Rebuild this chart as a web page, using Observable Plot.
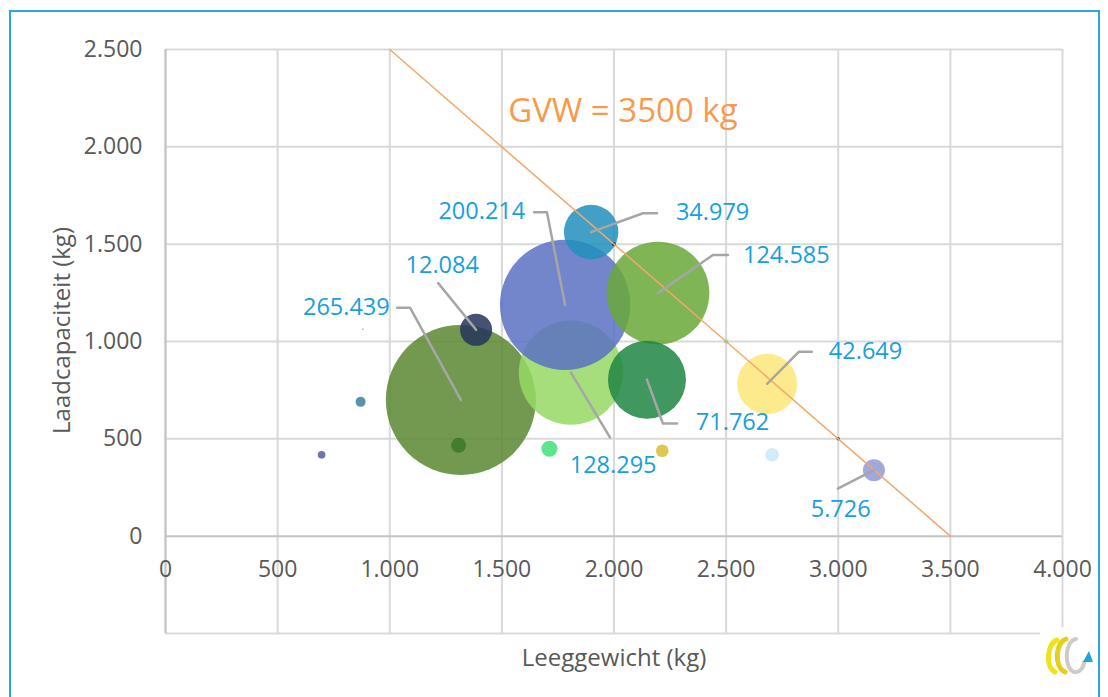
<!DOCTYPE html>
<html><head><meta charset="utf-8">
<script src="https://cdn.jsdelivr.net/npm/d3@7"></script>
<script src="https://cdn.jsdelivr.net/npm/@observablehq/plot@0.6"></script>
<style>
body{margin:0;background:#fff;}
#wrap{position:relative;width:1108px;height:697px;overflow:hidden;background:#fff;}
#frame{position:absolute;left:9px;top:10px;width:1087px;height:720px;border:2px solid #2ba6de;pointer-events:none;}
#logo{position:absolute;left:1040px;top:627px;width:56px;height:62px;background:#fff;}
</style></head>
<body><div id="wrap"><div id="chart"></div><div id="frame"></div>
<svg id="logo" viewBox="0 0 56 62">
<path d="M17 13 C7 16 5 40 15 45" fill="none" stroke="#f1e21a" stroke-width="5" stroke-linecap="round"/>
<path d="M26 12 C15 16 14 40 25 45" fill="none" stroke="#e6cf1c" stroke-width="5" stroke-linecap="round"/>
<path d="M36 12 C24 14 24 42 34 45 C40 46 44 40 44 35" fill="none" stroke="#cbcbcb" stroke-width="4" stroke-linecap="round"/>
<polygon points="49,24 43,35 53,35" fill="#1ca3e0"/>
</svg></div>
<script>
// data
const leeggewicht   = [1317, 1385, 1808, 1782, 2196, 1898, 2147, 2683, 3159, 870, 696, 1307, 1712, 2215, 2705, 880, 2500, 3000, 2000];
const laadcapaciteit= [700, 1060, 840, 1188, 1249, 1562, 804, 782, 339, 690, 418, 467, 449, 439, 418, 1063, 1000, 500, 1500];
const aantal        = [265439, 12084, 128295, 200214, 124585, 34979, 71762, 42649, 5726, 1180, 700, 2650, 3000, 1880, 2200, 30, 190, 150, 190];
const kleuren       = ["#5a8631", "#24345a", "#95d863", "#5b71c3", "#6aa838", "#218fbc", "#1e8644", "#fde678", "#8f99d6",
                       "#3c80a0", "#5a5aa0", "#3c7828", "#40e078", "#d7be37", "#cde8fa", "#4aa3d8", "#4ee67a", "#2f5060", "#1f3270"];
// labels: index of bubble, label anchor (data units), text anchor, leader elbow points (data units)
const labelIndex  = [0, 1, 2, 3, 4, 5, 6, 7, 8];
const labelX      = [1000, 1234, 1996, 1604, 2575, 2276, 2365, 2958, 3011];
const labelY      = [1175, 1393, 364, 1668, 1440, 1663, 583, 947, 138];
const labelAnchor = ["end", "middle", "middle", "end", "start", "start", "start", "start", "middle"];
const leaderX     = [[1033, 1091], [1216], [1982], [1644, 1701], [2508, 2441], [2192, 2129], [2281, 2218], [2882, 2824], [2998]];
const leaderY     = [[1173, 1173], [1300], [507], [1664, 1664], [1444, 1444], [1659, 1659], [579, 579], [947, 947], [244]];
const xTicks = [0, 500, 1000, 1500, 2000, 2500, 3000, 3500, 4000];
const yTicks = [0, 500, 1000, 1500, 2000, 2500];
const yMin = -500, yMax = 2500;
const gvw = 3500;
const titleText = "GVW = 3500 kg", titleX = 1528, titleY = 2180;

const nl = d3.formatLocale({decimal: ",", thousands: ".", grouping: [3], currency: ["", ""]});
const fmt = nl.format(",d");

const bubbles = leeggewicht.map((x, i) => ({x, y: laadcapaciteit[i], n: aantal[i], c: kleuren[i]}));
const labels = labelIndex.map((k, j) => ({x: labelX[j], y: labelY[j], a: labelAnchor[j], t: fmt(aantal[k])}));
const leaders = [];
labelIndex.forEach((k, j) => {
  leaderX[j].forEach((x, m) => leaders.push({id: j, x, y: leaderY[j][m]}));
  leaders.push({id: j, x: leeggewicht[k], y: laadcapaciteit[k]});
});
const gvwLine = [gvw - yMax, gvw].map(x => ({x, y: gvw - x}));
const labelFont = "Open Sans, sans-serif";
const labelMark = a => Plot.text(labels.filter(d => d.a === a), {x: "x", y: "y", text: "t", textAnchor: a, fill: "#17a0db", fontSize: 23.5, lineAnchor: "middle"});

const chart = Plot.plot({
  width: 1108, height: 697,
  marginLeft: 165, marginRight: 46, marginTop: 49, marginBottom: 64,
  style: {fontFamily: labelFont, fontSize: "23px", color: "#595959", background: "transparent"},
  x: {domain: [0, 4000], axis: null},
  y: {domain: [yMin, yMax], axis: null},
  r: {type: "sqrt", domain: [0, 265439], range: [0, 75]},
  marks: [
    Plot.ruleX(xTicks, {stroke: "#d9d9d9", strokeWidth: 2}),
    Plot.ruleY([yMin, ...yTicks.filter(d => d !== 0)], {stroke: "#d9d9d9", strokeWidth: 2}),
    Plot.ruleY([0], {stroke: "#c4c4c4", strokeWidth: 2}),
    Plot.ruleX([0], {stroke: "#c4c4c4", strokeWidth: 2}),
    Plot.axisY(yTicks, {tickSize: 0, tickPadding: 23, tickFormat: fmt, fill: "#595959", label: null}),
    Plot.text(xTicks, {x: d => d, y: 0, dy: 33, text: d => fmt(d), fill: "#595959", textAnchor: "middle", lineAnchor: "middle"}),
    Plot.dot(bubbles, {x: "x", y: "y", r: "n", fill: "c", fillOpacity: 0.85, sort: null}),
    Plot.line(gvwLine, {x: "x", y: "y", stroke: "#f6a66a", strokeWidth: 1.5}),
    Plot.line(leaders, {x: "x", y: "y", z: "id", stroke: "#a6a6a6", strokeWidth: 2.5}),
    labelMark("start"), labelMark("middle"), labelMark("end"),
    Plot.text([titleText], {x: titleX, y: titleY, text: d => d, textAnchor: "start", lineAnchor: "middle", fill: "#f59a4e", fontSize: 33}),
    Plot.text(["Leeggewicht (kg)"], {frameAnchor: "bottom", dy: 25, text: d => d, fill: "#595959", fontSize: 24, lineAnchor: "middle", textAnchor: "middle"}),
    Plot.text(["Laadcapaciteit (kg)"], {frameAnchor: "left", dx: -103, dy: -11, rotate: -90, text: d => d, fill: "#595959", fontSize: 24, lineAnchor: "middle", textAnchor: "middle"})
  ]
});
document.getElementById("chart").append(chart);
</script>
</body></html>
